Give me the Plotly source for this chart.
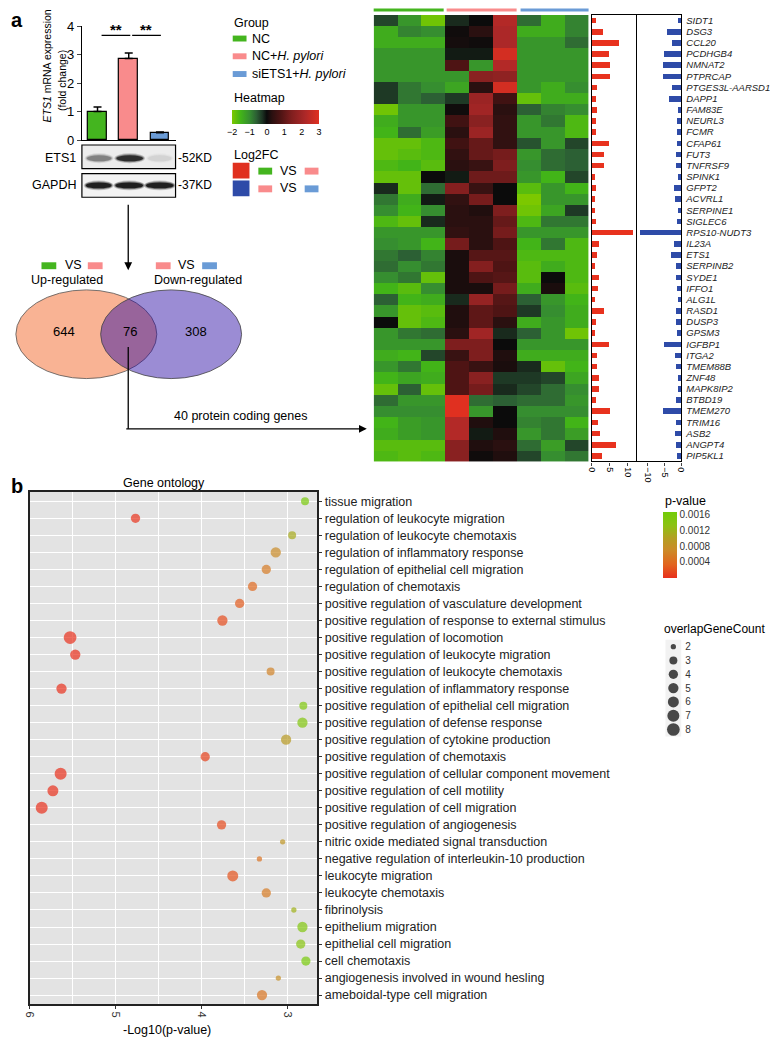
import numpy as np
import plotly.graph_objects as go

W, H = 772, 1046
FONT = "Liberation Sans, Arial, sans-serif"


def px(x):
    return x / W


def py(y):
    return 1 - y / H


# ---------------- data ----------------
groups = ["NC", "NC+H. pylori", "siETS1+H. pylori"]
group_colors = ["#44b51f", "#f98b8c", "#6a9bd6"]
ets1_fc = [1.0, 2.86, 0.26]
ets1_err = [0.16, 0.19, 0.02]

venn_counts = [644, 76, 308]

genes = ["SIDT1", "DSG3", "CCL20", "PCDHGB4", "NMNAT2", "PTPRCAP", "PTGES3L-AARSD1",
         "DAPP1", "FAM83E", "NEURL3", "FCMR", "CFAP61", "FUT3", "TNFRSF9", "SPINK1",
         "GFPT2", "ACVRL1", "SERPINE1", "SIGLEC6", "RPS10-NUDT3", "IL23A", "ETS1",
         "SERPINB2", "SYDE1", "IFFO1", "ALG1L", "RASD1", "DUSP3", "GPSM3", "IGFBP1",
         "ITGA2", "TMEM88B", "ZNF48", "MAPK8IP2", "BTBD19", "TMEM270", "TRIM16",
         "ASB2", "ANGPT4", "PIP5KL1"]

heat = [
    [-0.4, -1.1, -1.9, -0.2, 0.0, 2.3, -0.7, -1.4, -0.9],
    [-1.4, -0.9, -1.0, 0.05, 0.3, 2.2, -1.4, -1.4, -0.9],
    [-1.4, -1.4, -1.4, 0.1, 0.05, 2.2, -1.1, -1.1, -0.7],
    [-1.1, -1.1, -1.1, -0.1, -0.1, 2.8, -1.1, -1.1, -1.1],
    [-1.1, -1.1, -1.1, 0.8, -1.1, 2.3, -1.1, -1.1, -1.1],
    [-1.1, -1.1, -1.1, -1.1, 1.6, 1.7, -1.1, -1.1, -1.1],
    [-0.3, -0.8, -1.0, -1.3, 0.3, 2.8, -1.1, -1.4, -1.0],
    [-0.3, -0.8, -0.6, -0.3, 1.9, 0.6, -1.8, -1.4, -1.4],
    [-1.9, -1.1, -1.1, 0.05, 2.0, 0.3, -0.6, -0.9, -1.0],
    [-1.4, -1.1, -1.1, 0.6, 1.6, 0.4, -1.1, -0.8, -1.6],
    [-1.5, -0.7, -1.2, 0.3, 1.9, 0.4, -1.1, -1.1, -1.6],
    [-1.8, -1.8, -1.6, 0.6, 1.1, 0.4, -0.5, -1.1, -0.4],
    [-1.8, -1.7, -1.6, 0.4, 1.1, 1.3, -1.1, -0.7, -0.6],
    [-1.6, -1.5, -1.7, 0.3, 0.5, 1.4, -1.0, -0.7, -0.6],
    [-1.8, -1.8, 0.0, -0.1, 1.2, 1.2, -1.1, -1.5, -0.4],
    [-0.2, -1.8, -0.7, 1.5, 0.5, 0.0, -1.7, -1.1, -1.5],
    [-0.8, -1.4, -0.1, 0.4, 1.3, 0.0, -2.0, -1.1, -1.1],
    [-1.0, -1.5, -1.0, 0.3, 0.2, 1.4, -1.9, -1.3, -0.3],
    [-1.6, -1.8, -0.2, 0.3, 0.3, 1.1, -1.6, -0.8, -0.8],
    [-1.1, -1.1, -1.1, 0.4, 0.3, 1.3, -1.1, -1.1, -1.1],
    [-1.0, -1.1, -1.5, 1.3, 0.3, 0.8, -1.5, -0.8, -1.6],
    [-0.8, -0.6, -0.9, 0.15, 0.9, 0.9, -1.6, -1.6, -1.6],
    [-0.7, -1.0, -0.8, 0.15, 1.5, 0.8, -1.7, -1.4, -1.6],
    [-1.0, -0.8, -1.8, 0.15, 0.8, 0.9, -1.7, 0.0, -1.6],
    [-1.5, -1.7, -1.0, 0.15, 0.15, 1.3, -1.4, 0.15, -1.7],
    [-0.6, -1.5, -1.4, -0.2, 1.8, 0.9, -0.6, -1.1, -1.5],
    [-1.1, -1.8, -1.7, 0.2, 1.0, 0.8, -0.3, -1.0, -1.4],
    [0.0, -1.8, -1.6, 0.2, 1.0, 0.3, -1.4, -1.1, -1.4],
    [-1.1, -0.8, -0.7, 0.3, 2.0, -0.2, -0.6, -1.1, -1.9],
    [-1.1, -1.1, -1.1, 1.4, 1.4, 0.0, -1.1, -1.1, -1.1],
    [-1.4, -1.5, -0.4, 0.5, 1.4, 0.2, -1.4, -1.4, -1.4],
    [-1.1, -0.8, -1.5, 0.8, 0.5, 0.15, -0.2, -1.8, -1.5],
    [-1.5, -1.3, -1.4, 0.8, 1.6, -0.3, -0.3, -0.4, -1.3],
    [-1.8, -0.6, -1.8, 0.8, 1.3, -0.2, -0.4, -0.7, -1.0],
    [-0.7, -1.1, -1.1, 3.0, -0.7, -0.6, -0.7, -0.7, -1.1],
    [-1.0, -1.0, -1.0, 3.0, -1.1, 0.0, -1.0, -1.0, -1.0],
    [-1.5, -1.2, -1.1, 2.3, 0.2, 0.0, -0.9, -0.8, -1.5],
    [-1.4, -1.2, -1.1, 2.3, -0.1, 0.2, -1.1, -0.8, -1.2],
    [-1.7, -1.7, -1.7, 1.6, 0.2, 0.3, -0.7, -1.2, -0.4],
    [-1.6, -1.7, -1.6, 1.6, 0.05, 0.2, -0.4, -1.0, -0.8],
]

log2fc_up = [1.1, 2.9, 7.5, 4.7, 4.9, 4.9, 1.4, 1.0, 1.4, 1.2, 1.0, 4.7, 3.2, 3.3, 0.8,
             1.2, 0.8, 0.8, 1.2, 11.3, 1.8, 1.3, 0.8, 1.9, 1.6, 0.8, 3.2, 1.2, 0.9, 4.7,
             1.3, 1.4, 2.0, 1.8, 1.2, 4.9, 1.6, 2.1, 6.6, 2.8]
log2fc_down = [-1.0, -4.2, -2.9, -5.3, -5.5, -5.5, -2.9, -3.6, -1.0, -1.3, -1.3, -1.4,
               -1.5, -1.6, -0.9, -2.1, -1.9, -1.0, -1.3, -12.3, -2.3, -3.0, -1.6, -1.6,
               -1.2, -0.9, -1.6, -1.6, -1.4, -5.2, -1.8, -1.5, -1.0, -1.0, -1.5, -5.4,
               -1.5, -1.8, -1.5, -1.2]

go_terms = ["tissue migration", "regulation of leukocyte migration",
            "regulation of leukocyte chemotaxis", "regulation of inflammatory response",
            "regulation of epithelial cell migration", "regulation of chemotaxis",
            "positive regulation of vasculature development",
            "positive regulation of response to external stimulus",
            "positive regulation of locomotion", "positive regulation of leukocyte migration",
            "positive regulation of leukocyte chemotaxis",
            "positive regulation of inflammatory response",
            "positive regulation of epithelial cell migration",
            "positive regulation of defense response",
            "positive regulation of cytokine production", "positive regulation of chemotaxis",
            "positive regulation of cellular component movement",
            "positive regulation of cell motility", "positive regulation of cell migration",
            "positive regulation of angiogenesis", "nitric oxide mediated signal transduction",
            "negative regulation of interleukin-10 production", "leukocyte migration",
            "leukocyte chemotaxis", "fibrinolysis", "epithelium migration",
            "epithelial cell migration", "cell chemotaxis",
            "angiogenesis involved in wound hesling", "ameboidal-type cell migration"]
go_neglog10p = [2.80, 4.77, 2.95, 3.14, 3.25, 3.41, 3.56, 3.76, 5.53, 5.47, 3.20, 5.63,
                2.82, 2.83, 3.02, 3.96, 5.64, 5.73, 5.86, 3.77, 3.06, 3.33, 3.64, 3.25,
                2.93, 2.83, 2.85, 2.79, 3.11, 3.30]
go_count = [3, 4, 3, 5, 4, 4, 4, 5, 8, 5, 3, 5, 3, 5, 5, 4, 7, 6, 7, 4, 2, 2, 6, 4, 2,
            5, 4, 4, 2, 5]
count_levels = [2, 3, 4, 5, 6, 7, 8]

# marker diameter for each overlap count (legend of the original)
SIZE_PX = {2: 5.3, 3: 8.0, 4: 9.3, 5: 10.3, 6: 11.0, 7: 12.0, 8: 12.7}

heat_scale = [[0.0, "#7cc800"], [0.1, "#42b418"], [0.2, "#368e30"], [0.28, "#2c6034"],
              [0.35, "#1c3222"], [0.4, "#0b0b0b"], [0.46, "#2a1010"], [0.56, "#4e1414"],
              [0.68, "#7e1e1e"], [0.84, "#ac2828"], [1.0, "#e03020"]]
p_scale = [[0.0, "#e8301c"], [0.2, "#e2641e"], [0.42, "#cc8a28"], [0.6, "#b49e22"],
           [0.8, "#8cc212"], [1.0, "#72cc08"]]

fig = go.Figure()

# ---------------- ETS1 qPCR bars ----------------
fig.add_trace(go.Bar(
    x=groups, y=ets1_fc, width=0.6,
    marker=dict(color=group_colors, line=dict(color="black", width=1.2)),
    error_y=dict(type="data", array=ets1_err, arrayminus=[0, 0, 0], symmetric=False,
                 color="black", thickness=1.5, width=4),
    xaxis="x", yaxis="y", showlegend=False))

# ---------------- heatmap ----------------
fig.add_trace(go.Heatmap(
    z=heat, y=genes, x=list(range(9)), colorscale=heat_scale, zmin=-2, zmax=3,
    xaxis="x2", yaxis="y2", xgap=0, ygap=0,
    colorbar=dict(orientation="h", x=px(273.5), xanchor="center", y=py(104),
                  yanchor="top", len=87, lenmode="pixels", thickness=14,
                  thicknessmode="pixels", xpad=0, ypad=0, outlinewidth=0,
                  tickvals=[-2, -1, 0, 1, 2, 3], ticks="",
                  tickfont=dict(size=9, color="black", family=FONT))))

fig.add_trace(go.Bar(y=genes, x=log2fc_up, orientation="h", width=0.5,
                     marker=dict(color="#e8321e", line=dict(width=0)),
                     xaxis="x3", yaxis="y3", showlegend=False))
fig.add_trace(go.Bar(y=genes, x=log2fc_down, orientation="h", width=0.5,
                     marker=dict(color="#2e4ba8", line=dict(width=0)),
                     xaxis="x4", yaxis="y4", showlegend=False))

# ---------------- GO dot plot ----------------
pvals = 10 ** (-np.array(go_neglog10p))
fig.add_trace(go.Scatter(
    x=go_neglog10p, y=go_terms, mode="markers", xaxis="x5", yaxis="y5",
    showlegend=False,
    marker=dict(size=[SIZE_PX[c] for c in go_count], color=pvals, colorscale=p_scale,
                cmin=0, cmax=0.00168, line=dict(width=0),
                colorbar=dict(x=px(667), xanchor="left", y=py(579), yanchor="bottom",
                              len=66, lenmode="pixels", thickness=14,
                              thicknessmode="pixels", xpad=0, ypad=0, outlinewidth=0,
                              tickvals=[0.0004, 0.0008, 0.0012, 0.0016],
                              ticktext=["0.0004", "0.0008", "0.0012", "0.0016"],
                              ticks="", tickfont=dict(size=10, color="#333",
                                                      family=FONT)))))

# size key (overlapGeneCount)
fig.add_trace(go.Scatter(
    x=[0] * len(count_levels), y=count_levels, mode="markers", xaxis="x6", yaxis="y6",
    showlegend=False, hoverinfo="skip",
    marker=dict(size=[SIZE_PX[c] for c in count_levels], color="black",
                line=dict(width=0))))

# ---------------- axes ----------------
noax = dict(showgrid=False, zeroline=False, showticklabels=False, ticks="")
fig.update_layout(
    xaxis=dict(domain=[px(77), px(172)], range=[-0.5, 2.5], anchor="y", showgrid=False,
               showticklabels=False, showline=True, linecolor="black", linewidth=1.3,
               ticks=""),
    yaxis=dict(domain=[py(135), py(19.3)], range=[0, 4], anchor="x", showgrid=False,
               zeroline=False, showline=True, linecolor="black", linewidth=1.3,
               ticks="outside", ticklen=4, tickwidth=1.2, dtick=1,
               tickfont=dict(size=13, color="black")),
    xaxis2=dict(domain=[px(373), px(591)], range=[-0.5, 8.5], anchor="y2", **noax),
    yaxis2=dict(domain=[py(461), py(8)], range=[39.5, -0.5], anchor="x2", **noax),
    xaxis3=dict(domain=[px(594), px(638.7)], range=[0, 12.1], anchor="y3",
                showgrid=False, zeroline=False, showline=True, mirror=True,
                linecolor="black", linewidth=1.3, ticks="outside", ticklen=3,
                tickvals=[0, 5, 10], tickangle=90, tickfont=dict(size=9, color="black")),
    yaxis3=dict(domain=[py(461), py(8)], range=[39.5, -0.5], anchor="x3",
                showline=True, mirror=True, linecolor="black", linewidth=1.3, **noax),
    xaxis4=dict(domain=[px(640), px(685)], range=[-13.2, 0], anchor="y4",
                showgrid=False, zeroline=False, showline=True, mirror=True,
                linecolor="black", linewidth=1.3, ticks="outside", ticklen=3,
                tickvals=[-10, -5, 0], tickangle=90, tickfont=dict(size=9, color="black")),
    yaxis4=dict(domain=[py(461), py(8)], range=[39.5, -0.5], anchor="x4", side="right",
                showgrid=False, zeroline=False, showline=True, mirror=True,
                linecolor="black", linewidth=1.3, ticks="", ticklabelstandoff=2,
                tickfont=dict(size=9.5, color="#222", style="italic")),
    xaxis5=dict(domain=[px(24), px(316)], range=[6, 2.655], anchor="y5",
                showgrid=True, gridcolor="white", gridwidth=1.1, zeroline=False,
                tickvals=[3, 4, 5, 6], ticks="outside", ticklen=3, tickcolor="#333",
                tickangle=90, tickfont=dict(size=11, color="#333"),
                showline=True, mirror=True, linecolor="#222", linewidth=1.5,
                minor=dict(tickvals=[3.5, 4.5, 5.5], showgrid=True, gridcolor="white",
                           gridwidth=0.6, ticks="")),
    yaxis5=dict(domain=[py(1012), py(492)], range=[29.55, -0.55], anchor="x5",
                side="right", showgrid=True, gridcolor="white", gridwidth=1.1,
                zeroline=False, ticks="outside", ticklen=3, tickcolor="#333",
                showline=True, mirror=True, linecolor="#222", linewidth=1.5,
                tickfont=dict(size=12.5, color="#222")),
    xaxis6=dict(domain=[px(669), px(685)], range=[-0.5, 0.5], anchor="y6", **noax),
    yaxis6=dict(domain=[py(740), py(642)], range=[8.5, 1.5], anchor="x6", side="right",
                showgrid=False, zeroline=False, ticks="", tickvals=count_levels,
                ticklabelstandoff=3, tickfont=dict(size=10, color="#333")),
)

# ---------------- shapes ----------------
shapes = []


def rect(x0, y0, x1, y1, fill, line=None, lw=0, layer="above", kind="rect", opacity=1):
    shapes.append(dict(type=kind, xref="paper", yref="paper", x0=px(x0), x1=px(x1),
                       y0=py(y1), y1=py(y0), fillcolor=fill, opacity=opacity,
                       line=dict(color=line or "rgba(0,0,0,0)", width=lw), layer=layer))


# grey panel of dot plot and size key backgrounds
shapes.append(dict(type="rect", xref="x5 domain", yref="y5 domain", x0=0, x1=1, y0=0,
                   y1=1, fillcolor="#e3e3e3", line=dict(width=0), layer="below"))
shapes.append(dict(type="rect", xref="x6 domain", yref="y6 domain", x0=0, x1=1, y0=0,
                   y1=1, fillcolor="#f2f2f2", line=dict(width=0), layer="below"))

# significance brackets
shapes.append(dict(type="line", xref="x", yref="y", x0=0.13, x1=1.05, y0=3.67, y1=3.67,
                   line=dict(color="black", width=1.2)))
shapes.append(dict(type="line", xref="x", yref="y", x0=1.11, x1=2.03, y0=3.67, y1=3.67,
                   line=dict(color="black", width=1.2)))

# western blot
rect(77, 140, 172, 164, "#ececec", "black", 1.2)
rect(77, 169, 172, 193, "#f3f3f3", "black", 1.2)
bands = [(82, 107, 153.5, "#555555", 0.55), (112, 139, 153.5, "#1e1e1e", 0.85),
         (144, 168, 153.5, "#aaaaaa", 0.25),
         (81, 107, 181, "#151515", 0.9), (111, 139, 181, "#151515", 0.9),
         (142, 170, 181, "#151515", 0.9)]
for x0, x1, yc, col, op in bands:
    rect(x0 - 2, yc - 5, x1 + 2, yc + 5, col, kind="circle", opacity=op * 0.25)
    rect(x0 - 1, yc - 4, x1 + 1, yc + 4, col, kind="circle", opacity=op * 0.45)
    rect(x0, yc - 3, x1, yc + 3, col, kind="circle", opacity=op)

# group legend swatches
for i, yc in enumerate([32, 50, 68]):
    rect(230, yc - 3, 244, yc + 3, group_colors[i])
# Log2FC legend
rect(230, 158, 247, 174, "#e0301e")
rect(230, 176, 247, 192, "#2e4ba8")
rect(256, 163, 270, 170, group_colors[0])
rect(303, 163, 317, 170, group_colors[1])
rect(256, 181, 270, 188, group_colors[1])
rect(303, 181, 317, 188, group_colors[2])

# heatmap group bars
rect(373, 1.5, 444, 4.5, group_colors[0])
rect(447, 1.5, 518, 4.5, group_colors[1])
rect(522, 1.5, 591, 4.5, group_colors[2])

# venn swatches
rect(36, 259, 51, 266, group_colors[0])
rect(83, 259, 98, 266, group_colors[1])
rect(152, 259, 167, 266, group_colors[1])
rect(199, 259, 214, 266, group_colors[2])

# venn ellipses
rect(10, 287, 153, 377, "#f9b394", "#555555", 0.8, kind="circle")
rect(96, 287, 239, 377, "rgba(42,10,164,0.47)", "#444444", 0.8, kind="circle")

# connecting line from intersection
shapes.append(dict(type="line", xref="paper", yref="paper", x0=px(124), x1=px(124),
                   y0=py(345), y1=py(428), line=dict(color="black", width=1.3)))

fig.update_layout(shapes=shapes)

# ---------------- annotations ----------------
ann = []


def text(x, y, s, size=12, xanchor="center", yanchor="middle", **kw):
    d = dict(x=px(x), y=py(y), xref="paper", yref="paper", text=s, showarrow=False,
             xanchor=xanchor, yanchor=yanchor, font=dict(size=size, color="black",
                                                          family=FONT))
    d.update(kw)
    ann.append(d)


text(3, 13, "<b>a</b>", 20, xanchor="left")
text(3, 486, "<b>b</b>", 20, xanchor="left")
text(42, 60, "<i>ETS1</i> mRNA expression", 10.5, textangle=-90)
text(57, 75, "(fold change)", 10.5, textangle=-90)
text(112, 23, "<b>**</b>", 15)
text(142, 23, "<b>**</b>", 15)
text(73, 153, "ETS1", 12.5, xanchor="right")
text(73, 181, "GAPDH", 12.5, xanchor="right")
text(172, 153, "-52KD", 12, xanchor="left")
text(172, 181, "-37KD", 12, xanchor="left")

text(229, 16, "Group", 12.5, xanchor="left")
text(248, 32, "NC", 12.5, xanchor="left")
text(248, 50, "NC+<i>H. pylori</i>", 12.5, xanchor="left")
text(248, 68, "siETS1+<i>H. pylori</i>", 12.5, xanchor="left")
text(229, 92, "Heatmap", 12.5, xanchor="left")
text(229, 150, "Log2FC", 12.5, xanchor="left")
text(287, 166, "VS", 12.5)
text(287, 184, "VS", 12.5)

text(68, 262, "VS", 12.5)
text(183, 262, "VS", 12.5)
text(62, 277, "Up-regulated", 12.5)
text(195, 277, "Down-regulated", 12.5)
text(59, 329, str(venn_counts[0]), 13)
text(126, 329, str(venn_counts[1]), 13)
text(193, 329, str(venn_counts[2]), 13)
text(238, 415, "40 protein coding genes", 12.5)

text(160, 483, "Gene ontology", 12.5)
text(163, 1038, "-Log10(p-value)", 12.5)
text(666, 501, "p-value", 12.5, xanchor="left")
text(665, 631, "overlapGeneCount", 12, xanchor="left")

# arrows
ann.append(dict(x=px(124), y=py(267), xref="paper", yref="paper", text="",
                showarrow=True, ax=0, ay=-67, arrowhead=2, arrowsize=1.2,
                arrowwidth=1.3, arrowcolor="black"))
ann.append(dict(x=px(366), y=py(428), xref="paper", yref="paper", text="",
                showarrow=True, ax=-242, ay=0, arrowhead=2, arrowsize=1.2,
                arrowwidth=1.3, arrowcolor="black"))

fig.update_layout(
    annotations=ann,
    width=W, height=H,
    margin=dict(l=0, r=0, t=0, b=0),
    paper_bgcolor="white", plot_bgcolor="white",
    font=dict(family=FONT, color="black"),
    bargap=0,
    showlegend=False,
)

fig.write_html("out.html", config={"displayModeBar": False},
               post_script="document.body.style.margin='0';"
                           "document.body.style.overflow='hidden';")
